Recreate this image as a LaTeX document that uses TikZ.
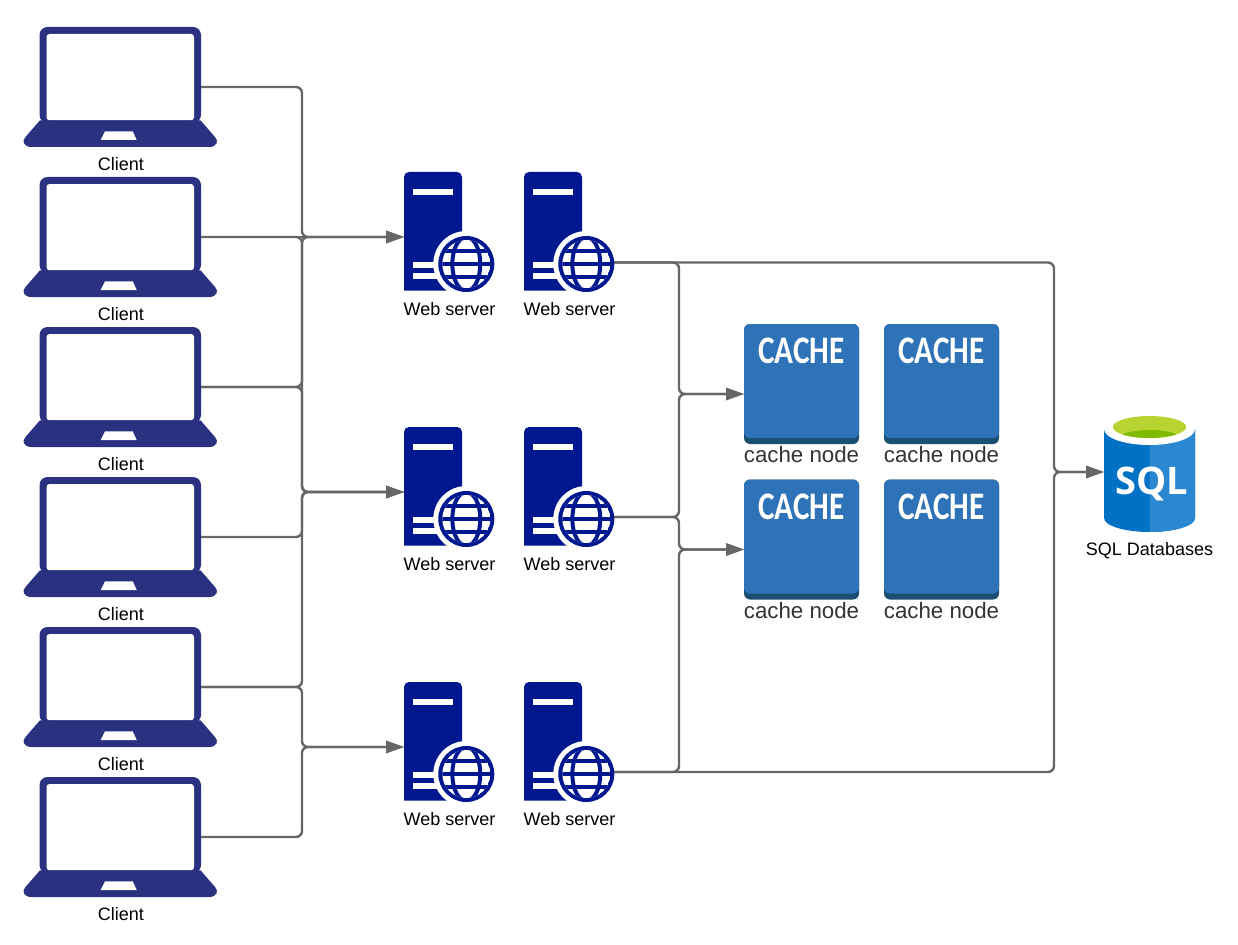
\documentclass[tikz,border=0pt]{standalone}
\usepackage{fontspec}
\setmainfont{Liberation Sans}
\newfontfamily\sqlfont{Open Sans}
\newfontfamily\cachefont{Carlito}
\usetikzlibrary{arrows.meta}

\definecolor{laptopblue}{RGB}{41,49,128}
\definecolor{serverblue}{RGB}{0,24,143}
\definecolor{cacheblue}{RGB}{46,115,184}
\definecolor{cachedark}{RGB}{27,79,114}
\definecolor{sqlblue}{RGB}{0,114,198}
\definecolor{sqllight}{RGB}{42,135,208}
\definecolor{sqlgreen}{RGB}{184,212,50}
\definecolor{sqldark}{RGB}{127,186,0}
\definecolor{linegray}{RGB}{102,102,102}

\tikzset{
    link/.style={draw=linegray, line width=2.4pt, rounded corners=6pt},
    linkarrow/.style={link, -{Triangle[length=18pt,width=12pt]}},
    caption/.style={font=\fontsize{18}{20}\selectfont, inner sep=0pt},
    cachecaption/.style={font=\fontsize{22.3}{24}\selectfont, text=black!80, inner sep=0pt},
    cachetitle/.style={font=\cachefont\bfseries\fontsize{39}{41}\selectfont, text=white, inner sep=0pt, transform shape, xscale=0.8},
    sqltitle/.style={font=\sqlfont\bfseries\fontsize{38}{40}\selectfont, text=white, inner sep=0pt},
    clientbox/.style={minimum width=161pt, minimum height=120pt, inner sep=0pt, outer sep=0pt},
    serverbox/.style={minimum width=90pt, minimum height=130pt, inner sep=0pt, outer sep=0pt},
    cachebox/.style={minimum width=115pt, minimum height=140pt, inner sep=0pt, outer sep=0pt},
    sqlbox/.style={minimum width=91pt, minimum height=118pt, inner sep=0pt, outer sep=0pt},
    laptop/.pic={
        \fill[laptopblue, rounded corners=8pt] (-81,36) -- (-81,-60) -- (80.5,-60) -- (80.5,36) -- cycle;
        \fill[white, rounded corners=3pt] (-74,33.3) -- (-74,-53) -- (73.5,-53) -- (73.5,33.3) -- cycle;
        \fill[laptopblue] (-80.5,33.3) -- (-95,50) .. controls (-99,54) and (-97,60) .. (-89,60) -- (88.5,60) .. controls (96.5,60) and (98.5,54) .. (94.5,50) -- (80,33.3) -- cycle;
        \fill[white] (-15.5,44.3) -- (12.2,44.3) -- (16.2,53) -- (-19.8,53) -- cycle;
    },
    server/.pic={
        \fill[serverblue] (-45,53.5) [rounded corners=5pt] -- (-45,-65) -- (13,-65) [sharp corners] -- (13,53.5) -- cycle;
        \fill[white] (-36.3,-47.7) rectangle (4,-41.7);
        \fill[white] (-36.3,24.7) rectangle (-10,30.7);
        \fill[white] (-36.3,36) rectangle (-10,42);
        % Globe
        \fill[white] (17.3,27) circle[radius=33];
        \fill[serverblue] (17.3,27) circle[radius=28];
        \begin{scope}
            \clip (17.3,27) circle[radius=24];
            \fill[white] (17.3,27) circle[radius=24];
            \draw[serverblue, line width=4pt] (17.3,27) ellipse[x radius=14, y radius=27];
            \draw[serverblue, line width=4pt] (-10,14) -- (45,14);
            \draw[serverblue, line width=4pt] (-10,27) -- (45,27);
            \draw[serverblue, line width=4pt] (-10,40) -- (45,40);
        \end{scope}
    },
    cachecube/.pic={
        \fill[cachedark, rounded corners=6pt] (-57.5,-70) rectangle (57.5,50);
        \fill[cacheblue, rounded corners=6pt] (-57.5,-70) rectangle (57.5,44);
    },
    database/.pic={
        \fill[sqlblue] (-45.5,-43) -- (-45.5,46) arc[start angle=180, end angle=0, x radius=45.5, y radius=14] -- (45.5,-43) -- cycle;
        \fill[sqllight] (0,-43) -- (0,60) arc[start angle=90, end angle=0, x radius=45.5, y radius=14] -- (45.5,-43) -- cycle;
        \fill[white] (0,-43) ellipse[x radius=45.5, y radius=16];
        \begin{scope}
            \clip (0,-45) ellipse[x radius=36.7, y radius=11];
            \fill[sqlgreen] (-40,-60) rectangle (40,-30);
            \fill[sqldark] (0,-34) ellipse[x radius=30, y radius=8];
        \end{scope}
    },
}

\begin{document}
\begin{tikzpicture}[x=1pt, y=-1pt]
    \useasboundingbox (0,0) rectangle (1238,944);

    % Clients
    \node[clientbox] (client1) at (120.5,87) {};
    \pic at (client1) {laptop};
    \node[caption] (client1 name) at (121,164.5) {Client};

    \node[clientbox] (client2) at (120.5,237) {};
    \pic at (client2) {laptop};
    \node[caption] (client2 name) at (121,314.5) {Client};

    \node[clientbox] (client3) at (120.5,387) {};
    \pic at (client3) {laptop};
    \node[caption] (client3 name) at (121,464.5) {Client};

    \node[clientbox] (client4) at (120.5,537) {};
    \pic at (client4) {laptop};
    \node[caption] (client4 name) at (121,614.5) {Client};

    \node[clientbox] (client5) at (120.5,687) {};
    \pic at (client5) {laptop};
    \node[caption] (client5 name) at (121,764.5) {Client};

    \node[clientbox] (client6) at (120.5,837) {};
    \pic at (client6) {laptop};
    \node[caption] (client6 name) at (121,914.5) {Client};

    % Web servers
    \node[serverbox] (webA1) at (449,237) {};
    \pic at (webA1) {server};
    \node[caption] (webA1 name) at (449.5,309.5) {Web server};

    \node[serverbox] (webB1) at (569,237) {};
    \pic at (webB1) {server};
    \node[caption] (webB1 name) at (569.5,309.5) {Web server};

    \node[serverbox] (webA2) at (449,492) {};
    \pic at (webA2) {server};
    \node[caption] (webA2 name) at (449.5,564.5) {Web server};

    \node[serverbox] (webB2) at (569,492) {};
    \pic at (webB2) {server};
    \node[caption] (webB2 name) at (569.5,564.5) {Web server};

    \node[serverbox] (webA3) at (449,747) {};
    \pic at (webA3) {server};
    \node[caption] (webA3 name) at (449.5,819.5) {Web server};

    \node[serverbox] (webB3) at (569,747) {};
    \pic at (webB3) {server};
    \node[caption] (webB3 name) at (569.5,819.5) {Web server};

    % Cache nodes
    \node[cachebox] (cacheA) at (801.5,394) {};
    \pic at (cacheA) {cachecube};
    \node[cachetitle] (cacheA title) at (801.5,351) {CACHE};
    \node[cachecaption] (cacheA name) at (801.5,455) {cache node};

    \node[cachebox] (cacheB) at (941.5,394) {};
    \pic at (cacheB) {cachecube};
    \node[cachetitle] (cacheB title) at (941.5,351) {CACHE};
    \node[cachecaption] (cacheB name) at (941.5,455) {cache node};

    \node[cachebox] (cacheC) at (801.5,549.5) {};
    \pic at (cacheC) {cachecube};
    \node[cachetitle] (cacheC title) at (801.5,506.5) {CACHE};
    \node[cachecaption] (cacheC name) at (801.5,610.5) {cache node};

    \node[cachebox] (cacheD) at (941.5,549.5) {};
    \pic at (cacheD) {cachecube};
    \node[cachetitle] (cacheD title) at (941.5,506.5) {CACHE};
    \node[cachecaption] (cacheD name) at (941.5,610.5) {cache node};

    % SQL database
    \node[sqlbox] (sqldb) at (1149.5,472) {};
    \pic at (sqldb) {database};
    \node[sqltitle] (sqldb title) at (1152,484) {SQL};
    \node[caption] (sqldb name) at (1149.5,551) {SQL Databases};

    % Vertical runs of the connectors
    \coordinate (busA) at (302,0);
    \coordinate (busB) at (679,0);
    \coordinate (busC) at (1054,0);
    \coordinate (webB1 out) at ([yshift=-25.5pt]webB1.east);
    \coordinate (webB2 out) at ([yshift=-25pt]webB2.east);
    \coordinate (webB3 out) at ([yshift=-25pt]webB3.east);

    % Clients to web servers
    \draw[linkarrow] (client1.east) -- (client1.east -| busA) -- (busA |- webA1.west) -- (webA1.west);
    \draw[linkarrow] (client2.east) -- (webA1.west);
    \draw[linkarrow] (client2.east) -- (client2.east -| busA) -- (busA |- webA2.west) -- (webA2.west);
    \draw[linkarrow] (client3.east) -- (client3.east -| busA) -- (busA |- webA1.west) -- (webA1.west);
    \draw[linkarrow] (client3.east) -- (client3.east -| busA) -- (busA |- webA2.west) -- (webA2.west);
    \draw[linkarrow] (client4.east) -- (client4.east -| busA) -- (busA |- webA2.west) -- (webA2.west);
    \draw[linkarrow] (client5.east) -- (client5.east -| busA) -- (busA |- webA2.west) -- (webA2.west);
    \draw[linkarrow] (client5.east) -- (client5.east -| busA) -- (busA |- webA3.west) -- (webA3.west);
    \draw[linkarrow] (client6.east) -- (client6.east -| busA) -- (busA |- webA3.west) -- (webA3.west);

    % Web servers to cache nodes
    \draw[linkarrow] (webB1 out) -- (webB1 out -| busB) -- (busB |- cacheA.west) -- (cacheA.west);
    \draw[linkarrow] (webB2 out) -- (webB2 out -| busB) -- (busB |- cacheA.west) -- (cacheA.west);
    \draw[linkarrow] (webB2 out) -- (webB2 out -| busB) -- (busB |- cacheC.west) -- (cacheC.west);
    \draw[linkarrow] (webB3 out) -- (webB3 out -| busB) -- (busB |- cacheC.west) -- (cacheC.west);

    % Web servers to database
    \draw[linkarrow] (webB1 out) -- (webB1 out -| busC) -- (busC |- sqldb.west) -- (sqldb.west);
    \draw[linkarrow] (webB3 out) -- (webB3 out -| busC) -- (busC |- sqldb.west) -- (sqldb.west);
\end{tikzpicture}
\end{document}
